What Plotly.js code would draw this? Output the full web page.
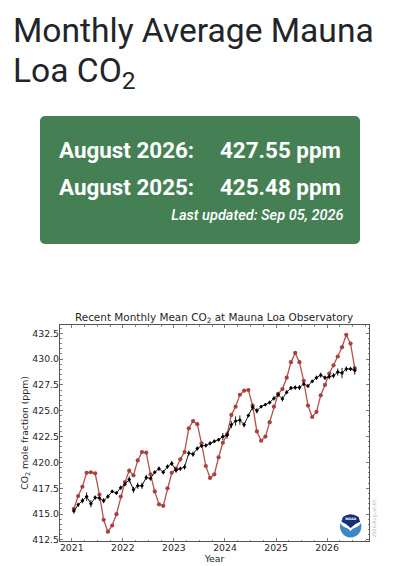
<!DOCTYPE html>
<html><head><meta charset="utf-8">
<script src="https://cdn.plot.ly/plotly-3.0.1.min.js"></script>
<style>
html,body{margin:0;padding:0;background:#fff;width:406px;height:566px;overflow:hidden;position:relative}
h1{position:absolute;left:13px;top:11px;margin:0;width:385px;font:400 33.6px/40px Roboto,sans-serif;color:#212529}
h1 sub{font-size:24.6px;line-height:0;vertical-align:-7.4px}
#card{position:absolute;left:40px;top:116px;width:320px;height:128px;background:#458055;border-radius:5px;color:#fff;font-family:Roboto,sans-serif}
.row{position:absolute;font-weight:700;font-size:22.4px;line-height:28px;white-space:pre}
#upd{position:absolute;right:16.5px;top:91px;font:italic 500 14.55px/18px Roboto,sans-serif;white-space:nowrap}
#chart{position:absolute;left:0;top:300px;width:406px;height:266px}
#logo{position:absolute;left:339px;top:513px;width:23px;height:25px}
</style></head><body>
<h1>Monthly Average Mauna Loa CO<sub>2</sub></h1>
<div id="card">
<div class="row" style="left:19px;top:20px">August 2026:</div><div class="row" style="left:180px;top:20px">427.55 ppm</div>
<div class="row" style="left:19px;top:56.5px">August 2025:</div><div class="row" style="left:180px;top:56.5px">425.48 ppm</div>
<div id="upd">Last updated: Sep 05, 2026</div>
</div>
<div id="chart"></div>
<svg id="logo" viewBox="0 0 24 26">
<path d="M1.5 10.5 A11.5 11.5 0 0 0 12 25.5 A11.5 11.5 0 0 0 22.8 10.5 C20 16 15 14.5 12 19 C9 14.5 4 16 1.5 10.5Z" fill="#3f86c4"/>
<path d="M4 4 Q12 -1.5 20.5 4 L22 9 Q16 11 12.2 15.5 Q8 11 2.5 9Z" fill="#14307a"/>
<text x="12.2" y="7" text-anchor="middle" font-family="DejaVu Sans" font-weight="700" font-size="3.6" fill="#fff">NOAA</text>
</svg>
<script>
const startYear = 2021;
const monthlyMean = [
415.5,416.75,417.65,419.0,419.05,418.95,416.9,414.45,413.3,413.9,415.0,416.7,
418.1,419.2,418.75,420.2,421.0,420.95,418.85,417.2,415.95,415.8,417.5,419.0,
419.4,420.3,421.0,423.3,424.0,423.7,421.85,419.65,418.5,418.85,420.5,421.9,
422.7,424.6,425.4,426.55,426.95,427.0,425.5,423.0,422.1,422.5,423.9,425.4,
426.65,427.1,428.2,429.7,430.6,429.7,427.9,425.5,424.4,424.9,426.5,427.5,
428.6,429.4,430.25,431.15,432.35,431.5,429.1];
const deseasonalized = [
415.3,415.9,416.3,416.7,416.0,416.6,416.55,416.3,416.7,417.2,417.05,417.55,
417.9,418.35,417.35,417.75,417.75,418.55,418.45,419.05,419.4,419.05,419.6,419.9,
419.25,419.4,419.55,420.9,420.8,421.35,421.6,421.65,421.85,422.05,422.2,422.5,
422.65,423.65,424.0,424.1,423.65,424.55,425.35,425.0,425.4,425.6,425.8,426.2,
426.55,426.15,426.8,427.2,427.25,427.25,427.6,427.4,427.85,428.2,428.45,428.2,
428.3,428.4,428.75,428.65,429.05,429.05,428.9];
const uncertainty = [
0.25,0.2,0.25,0.4,0.35,0.2,0.25,0.25,0.2,0.15,0.15,0.2,
0.2,0.3,0.3,0.3,0.3,0.25,0.2,0.15,0.2,0.2,0.2,0.25,
0.25,0.2,0.25,0.25,0.25,0.2,0.2,0.2,0.2,0.15,0.15,0.35,
0.35,0.35,0.45,0.45,0.25,0.15,0.3,0.25,0.15,0.15,0.15,0.2,
0.2,0.25,0.2,0.2,0.2,0.25,0.2,0.15,0.15,0.2,0.25,0.2,
0.25,0.25,0.35,0.5,0.25,0.2,0.4];
const dates = monthlyMean.map((_, i) => startYear + (i + 0.5) / 12);

const frame = '#555555', ink = '#262626';
const font = {family: 'DejaVu Sans', size: 9.3, color: ink};
const traces = [
 {x: dates, y: monthlyMean, mode: 'lines+markers', line: {color: '#b5504e', width: 1.3},
  marker: {color: '#a8403e', size: 4.2}, hoverinfo: 'skip'},
 {x: dates, y: deseasonalized, mode: 'lines+markers', line: {color: '#000', width: 0.9},
  marker: {color: '#000', size: 3, symbol: 'diamond'},
  error_y: {type: 'data', array: uncertainty, color: '#000', thickness: 0.9, width: 0}, hoverinfo: 'skip'}
];
const layout = {
 width: 406, height: 266, showlegend: false, paper_bgcolor: '#fff', plot_bgcolor: '#fff', font,
 margin: {l: 59.5, r: 37, t: 25, b: 24.5},
 title: {text: 'Recent Monthly Mean CO<sub>2</sub> at Mauna Loa Observatory', font: {family: 'DejaVu Sans', size: 10.45, color: ink},
  x: 214/406, xanchor: 'center', y: 1 - 17.5/266, yanchor: 'middle'},
 xaxis: {range: [2020.77, 2026.82], tickmode: 'linear', tick0: 2021, dtick: 1, tickformat: 'd',
  ticks: 'inside', ticklen: 3, tickwidth: 0.8, tickcolor: frame, mirror: 'allticks', showline: true, linecolor: frame, linewidth: 1.2,
  showgrid: false, zeroline: false, minor: {dtick: 0.25, ticks: 'inside', ticklen: 1.5, tickwidth: 0.7, tickcolor: frame, showgrid: false},
  ticklabelstandoff: -2,
  title: {text: 'Year', font: {size: 9.3}, standoff: 0}, tickfont: {size: 9.3}},
 yaxis: {range: [412.4, 433.3], tickmode: 'linear', tick0: 412.5, dtick: 2.5, tickformat: '.1f',
  ticks: 'inside', ticklen: 3, tickwidth: 0.8, tickcolor: frame, mirror: 'allticks', showline: true, linecolor: frame, linewidth: 1.2,
  showgrid: false, zeroline: false, minor: {dtick: 0.5, ticks: 'inside', ticklen: 1.5, tickwidth: 0.7, tickcolor: frame, showgrid: false},
  ticklabelstandoff: -2,
  title: {text: 'CO<sub>2</sub> mole fraction (ppm)', font: {size: 9.3}, standoff: 2}, tickfont: {size: 9.3}},
 annotations: [{text: '2026-August-05', xref: 'paper', yref: 'paper', x: 1, y: 0, xanchor: 'left', yanchor: 'bottom', xshift: 0, yshift: 1,
   textangle: -90, showarrow: false, font: {size: 4.8, color: '#b5b5b5', family: 'DejaVu Sans'}}]
};
Plotly.newPlot('chart', traces, layout, {displayModeBar: false, staticPlot: true});
</script>
</body></html>
